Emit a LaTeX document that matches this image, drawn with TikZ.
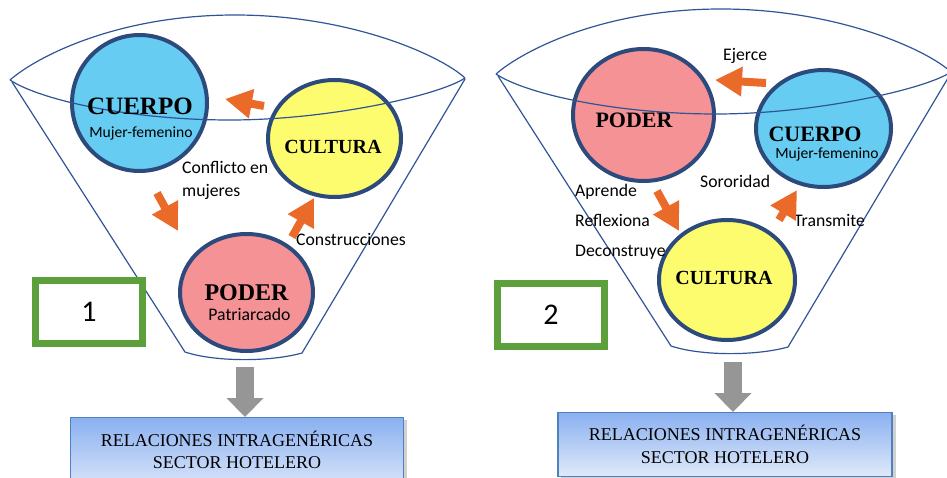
\documentclass[tikz,border=0pt]{standalone}
\usepackage{fontspec}
\setmainfont{Carlito}
\newfontfamily\tnr{Liberation Serif}
\usetikzlibrary{arrows.meta,shapes.geometric,shadows}
\definecolor{cblue}{RGB}{102,204,242}
\definecolor{cpink}{RGB}{245,146,150}
\definecolor{cyel}{RGB}{252,252,110}
\definecolor{cborder}{RGB}{44,74,124}
\definecolor{cfun}{RGB}{47,85,151}
\definecolor{corange}{RGB}{234,106,42}
\definecolor{cgray}{RGB}{150,150,150}
\definecolor{cgreen}{RGB}{92,160,60}
\definecolor{boxtop}{RGB}{138,176,240}
\definecolor{boxbot}{RGB}{224,234,250}
\definecolor{boxline}{RGB}{79,129,189}
\begin{document}
\begin{tikzpicture}[x=1pt,y=-1pt,
  circ/.style={ellipse,draw=cborder,line width=4pt,inner sep=0pt},
  funline/.style={draw=cfun,line width=1.2pt},
  orarrow/.style={draw=corange,line width=8pt,-{Triangle[width=28pt,length=27pt]},fill=corange},
  grarrow/.style={draw=cgray,line width=18pt,-{Triangle[width=36pt,length=19pt]},fill=cgray},
  bigtitle/.style={font=\tnr\bfseries\fontsize{#1}{#1}\selectfont,anchor=base,inner sep=0pt},
  lbl/.style={font=\fontsize{17.7}{20}\selectfont,anchor=base west,inner sep=0pt},
  sub/.style={font=\fontsize{15.6}{18}\selectfont,anchor=base,inner sep=0pt},
  numbox/.style={draw=cgreen,line width=7pt,minimum width=107pt,minimum height=63pt,font=\fontsize{30}{30}\selectfont,inner sep=0pt},
  resbox/.style={draw=boxline,line width=1.3pt,top color=boxtop,bottom color=boxbot,
     minimum width=333pt,anchor=north,inner sep=0pt},
  restext/.style={font=\tnr\fontsize{18}{18}\selectfont,anchor=base,inner sep=0pt}
]
\useasboundingbox (0,0) rectangle (947,478);
\clip (0,0) rectangle (947,478);

% ---------------- circles, left
\node[circ,fill=cblue,minimum width=135pt,minimum height=136pt] (cuerpoL) at (139.5,103) {};
\node[circ,fill=cyel,minimum width=133pt,minimum height=117pt] (culturaL) at (334.5,138.5) {};
\node[circ,fill=cpink,minimum width=133pt,minimum height=117pt] (poderL) at (246.5,292.5) {};
% ---------------- circles, right
\node[circ,fill=cpink,minimum width=141pt,minimum height=132pt] (poderR) at (643.5,115) {};
\node[circ,fill=cblue,minimum width=135pt,minimum height=117pt] (cuerpoR) at (823.5,128.5) {};
\node[circ,fill=cyel,minimum width=136pt,minimum height=120pt] (culturaR) at (727,280) {};

% ---------------- funnels
\foreach \dx/\dy in {0/0,486/-6}{
\begin{scope}[shift={(\dx,\dy)}]
  \draw[funline] (10,80) .. controls (35,58) and (115,15) .. (235,15)
                          .. controls (350,15) and (440,55) .. (465,78);
  \draw[funline] (10,80) .. controls (40,100) and (130,120) .. (230,120)
                          .. controls (330,120) and (440,95) .. (465,78);
  \draw[funline] (12,82) -- (185,352) .. controls (215,362) and (270,362) .. (302,353) -- (465,79);
\end{scope}}

% ---------------- texts in circles, left
\node[bigtitle=25] (tCuerpoL) at (140,115) {CUERPO};
\node[sub] (tMujerL) at (141,138) {Mujer-femenino};
\node[bigtitle=20] (tCulturaL) at (333,154) {CULTURA};
\node[bigtitle=24] (tPoderL) at (246.5,300) {PODER};
\node[sub,font=\fontsize{17.7}{20}\selectfont] (tPatL) at (249.5,320) {Patriarcado};
% ---------------- texts in circles, right
\node[bigtitle=22] (tPoderR) at (634,128) {PODER};
\node[bigtitle=22] (tCuerpoR) at (815,142) {CUERPO};
\node[sub] (tMujerR) at (827,159) {Mujer-femenino};
\node[bigtitle=20] (tCulturaR) at (724,284) {CULTURA};

% ---------------- labels
\node[lbl] (lConf) at (182,174) {Conflicto en};
\node[lbl] (lMuj) at (182,197) {mujeres};
\node[lbl] (lCons) at (296,246) {Construcciones};
\node[lbl] (lEje) at (723,61) {Ejerce};
\node[lbl] (lSor) at (700,188) {Sororidad};
\node[lbl] (lApr) at (575,197) {Aprende};
\node[lbl] (lRef) at (575,227) {Reflexiona};
\node[lbl] (lDec) at (575,257) {Deconstruye};
\node[lbl] (lTra) at (794,227) {Transmite};

% ---------------- orange arrows
\coordinate (a1s) at (264,106); \coordinate (a1e) at (225,99);
\coordinate (a2s) at (157,193); \coordinate (a2e) at (178,231);
\coordinate (a3s) at (292,237); \coordinate (a3e) at (314,198);
\coordinate (b1s) at (766,83);  \coordinate (b1e) at (715,80);
\coordinate (b2s) at (657,191); \coordinate (b2e) at (679,231);
\coordinate (b3s) at (779,220); \coordinate (b3e) at (797,190);
\draw[orarrow] (a1s) -- (a1e);
\draw[orarrow] (a2s) -- (a2e);
\draw[orarrow] (a3s) -- (a3e);
\draw[orarrow] (b1s) -- (b1e);
\draw[orarrow] (b2s) -- (b2e);
\draw[orarrow] (b3s) -- (b3e);

% ---------------- number boxes
\node[numbox] (n1) at (89,312) {1};
\node[numbox] (n2) at (551,315) {2};

% ---------------- result boxes
\fill[black,opacity=0.18] (74,420) rectangle (407,490);
\node[resbox,minimum height=75pt] (resL) at (237,417) {};
\fill[black,opacity=0.18] (561,415) rectangle (896,480);
\node[resbox,minimum height=64pt,minimum width=334pt] (resR) at (725,412) {};
\node[restext] (rL1) at (237,446) {RELACIONES INTRAGENÉRICAS};
\node[restext] (rL2) at (237,468) {SECTOR HOTELERO};
\node[restext] (rR1) at (725,440) {RELACIONES INTRAGENÉRICAS};
\node[restext] (rR2) at (725,463) {SECTOR HOTELERO};

% ---------------- gray arrows
\coordinate (gL) at (245,367);
\coordinate (gR) at (733,362);
\draw[grarrow] (gL) -- (resL.north -| gL);
\draw[grarrow] (gR) -- (resR.north -| gR);
\end{tikzpicture}
\end{document}
